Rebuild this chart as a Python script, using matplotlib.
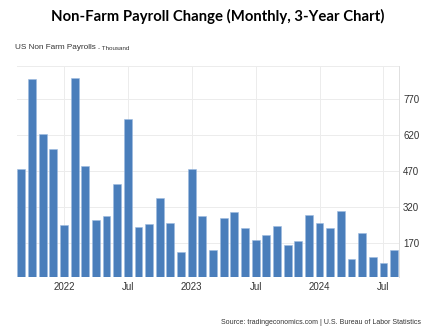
"""Non-farm payroll change bar chart."""
import numpy as np
import matplotlib
matplotlib.use("Agg")
import matplotlib.pyplot as plt

# monthly change, thousands, Sep 2021 - Aug 2024
months = [
    "2021-09", "2021-10", "2021-11", "2021-12",
    "2022-01", "2022-02", "2022-03", "2022-04", "2022-05", "2022-06",
    "2022-07", "2022-08", "2022-09", "2022-10", "2022-11", "2022-12",
    "2023-01", "2023-02", "2023-03", "2023-04", "2023-05", "2023-06",
    "2023-07", "2023-08", "2023-09", "2023-10", "2023-11", "2023-12",
    "2024-01", "2024-02", "2024-03", "2024-04", "2024-05", "2024-06",
    "2024-07", "2024-08",
]
payrolls = [
    476, 853, 624, 561,
    245, 858, 490, 265, 281, 415,
    685, 237, 248, 357, 251, 131,
    478, 281, 140, 272, 298, 233,
    180, 203, 240, 159, 176, 284,
    251, 230, 304, 101, 209, 110,
    84, 138,
]
xtick_months = ["2022-01", "2022-07", "2023-01", "2023-07", "2024-01", "2024-07"]
xtick_labels = ["2022", "Jul", "2023", "Jul", "2024", "Jul"]
ytick_values = [170, 320, 470, 620, 770]

fig = plt.figure(figsize=(4.35, 3.33), dpi=100)
ax = fig.add_axes([0.038, 0.167, 0.879, 0.636])

x = np.arange(len(months))
ax.bar(x, payrolls, width=0.74, bottom=0, color="#4a7ebb",
       edgecolor="#9dbbe0", linewidth=0.4, zorder=3)

ax.set_xlim(-0.45, len(months) - 0.55)
ax.set_ylim(25, 910)

ax.set_xticks([months.index(m) for m in xtick_months])
ax.set_xticklabels(xtick_labels, family="Liberation Sans")
ax.set_yticks(ytick_values)
ax.set_yticklabels([str(v) for v in ytick_values], family="Liberation Sans")
ax.yaxis.tick_right()

ax.tick_params(axis="both", length=0, labelsize=7, colors="#333333")
ax.tick_params(axis="x", pad=3)
ax.tick_params(axis="y", pad=3)

ax.grid(True, color="#ececec", linewidth=0.7, zorder=0)
for side in ["top", "left", "bottom"]:
    ax.spines[side].set_visible(False)
ax.spines["right"].set_color("#e0e0e0")
ax.spines["right"].set_linewidth(0.7)
ax.axhline(910, color="#ececec", linewidth=0.7, zorder=0)

fig.text(0.5, 0.95, "Non-Farm Payroll Change (Monthly, 3-Year Chart)",
         ha="center", va="center", fontsize=10.7, fontweight="bold",
         family="Lato", color="black")
fig.text(0.034, 0.858, "US Non Farm Payrolls", ha="left", va="center",
         fontsize=5.9, color="#333333", family="Liberation Sans")
fig.text(0.226, 0.855, "- Thousand", ha="left", va="center",
         fontsize=4.5, color="#333333", family="Liberation Sans")
fig.text(0.968, 0.033,
         "Source: tradingeconomics.com | U.S. Bureau of Labor Statistics",
         ha="right", va="center", fontsize=5.0, color="#333333",
         family="Liberation Sans")

fig.savefig("out.png", dpi=100)
